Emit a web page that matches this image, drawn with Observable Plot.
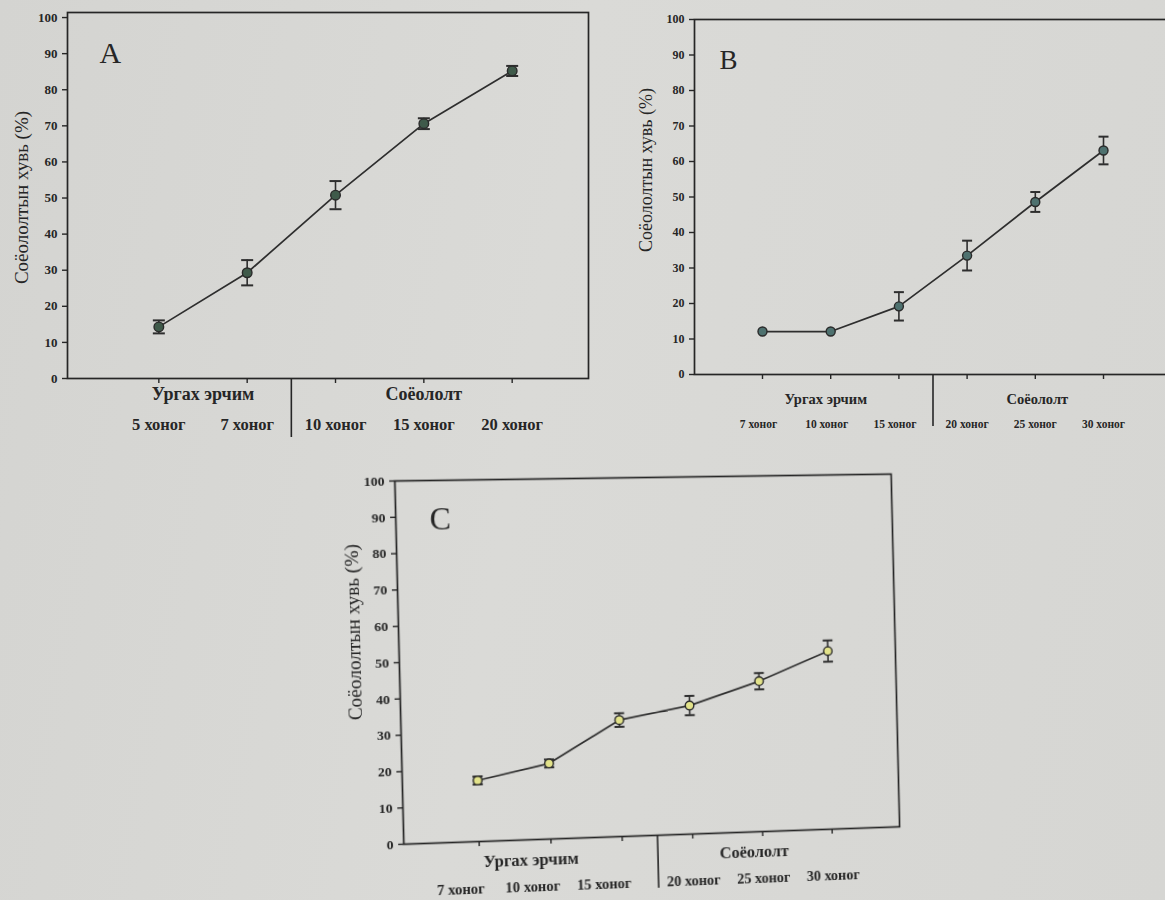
<!DOCTYPE html>
<html>
<head>
<meta charset="utf-8">
<script src="https://cdn.jsdelivr.net/npm/d3@7"></script>
<script src="https://cdn.jsdelivr.net/npm/@observablehq/plot@0.6"></script>
<style>
  html, body { margin: 0; padding: 0; }
  body { width: 1165px; height: 900px; overflow: hidden; position: relative;
         background: linear-gradient(100deg, #d4d4d1 0%, #dadad7 45%, #d6d6d3 100%); }
  .panel { position: absolute; }
  .panel svg { overflow: visible; max-width: none; }
</style>
</head>
<body>
<div id="A" class="panel" style="left:0px; top:0px; width:600px;"></div>
<div id="B" class="panel" style="left:620px; top:0px; width:560px;"></div>
<div id="C" class="panel" style="left:337px; top:457px; width:577px; transform: perspective(1000px) rotateY(3.4deg) rotate(-1.4deg); transform-origin: 313px 199px;"></div>
<script>
// ---------- data ----------
const yLabel = "Соёололтын хувь (%)";
const yTicks = [0, 10, 20, 30, 40, 50, 60, 70, 80, 90, 100];
const groupNames = ["Ургах эрчим", "Соёололт"];

const A_labels = ["5 хоног", "7 хоног", "10 хоног", "15 хоног", "20 хоног"];
const A_values = [14.3, 29.3, 50.8, 70.6, 85.2];
const A_errors = [1.8, 3.5, 3.9, 1.5, 1.4];
const A_groupSizes = [2, 3];

const B_labels = ["7 хоног", "10 хоног", "15 хоног", "20 хоног", "25 хоног", "30 хоног"];
const B_values = [12.1, 12.1, 19.2, 33.5, 48.6, 63.1];
const B_errors = [0, 0, 4.0, 4.2, 2.8, 3.9];
const B_groupSizes = [3, 3];

const C_labels = ["7 хоног", "10 хоног", "15 хоног", "20 хоног", "25 хоног", "30 хоног"];
const C_values = [16.9, 21.0, 32.5, 36.0, 42.3, 50.3];
const C_errors = [1.1, 1.1, 1.9, 2.7, 2.3, 3.0];
const C_groupSizes = [3, 3];

// ---------- drawing ----------
const ink = "#262626";
const capSymbol = {
  draw(context, size) {
    const r = Math.sqrt(size / Math.PI);
    context.moveTo(-r, 0);
    context.lineTo(r, 0);
  }
};

function panel(cfg) {
  const data = cfg.values.map((v, i) => ({i, v, e: cfg.errors[i], label: cfg.labels[i]}));
  const withErr = data.filter(d => d.e > 0);
  let start = 0;
  const groups = cfg.groupSizes.map((n, g) => {
    const o = {name: groupNames[g], c: start + (n - 1) / 2, end: start + n - 0.5, items: data.slice(start, start + n)};
    start += n;
    return o;
  });
  const boundaries = groups.slice(0, -1).map(g => g.end);
  const fontFamily = "'Liberation Serif', 'DejaVu Serif', serif";

  return Plot.plot({
    width: cfg.width, height: cfg.height,
    marginLeft: cfg.ml, marginRight: cfg.mr, marginTop: cfg.mt, marginBottom: cfg.mb,
    style: {background: "transparent", fontFamily, color: ink},
    x: {type: "linear", domain: cfg.xDomain, axis: null},
    y: {domain: [0, cfg.yMax], axis: null},
    marks: [
      Plot.frame({stroke: ink, strokeWidth: 1.7}),
      Plot.axisY({ticks: yTicks, tickSize: 5, tickPadding: cfg.yPad, fontSize: cfg.yFont, fontWeight: "bold",
                  strokeWidth: 1.4, label: null}),
      Plot.text([yLabel], {frameAnchor: "left", rotate: -90, dx: cfg.yLabelDx, dy: cfg.yLabelDy,
                  fontSize: cfg.yLabelFont, textAnchor: "middle", fill: ink}),
      Plot.axisX({ticks: d3.range(cfg.labels.length), tickFormat: () => "", tickSize: 5, strokeWidth: 1.4, label: null}),
      ...groups.map((g, k) => Plot.text(g.items, {x: "i", text: "label", frameAnchor: "bottom", lineAnchor: "top",
                  dy: 5 + cfg.xPad, dx: cfg.tickDx[k], fontSize: cfg.xFont, fontWeight: "bold", fill: ink})),
      Plot.axisX({ticks: boundaries, tickFormat: () => "", tickSize: cfg.divLen, strokeWidth: 1.6, label: null}),
      ...groups.map((g, k) => Plot.text([g], {x: "c", text: "name", frameAnchor: "bottom", lineAnchor: "top",
                  dy: cfg.gDy, dx: cfg.groupDx[k], fontSize: cfg.gFont, fontWeight: "bold", fill: ink})),
      Plot.text([cfg.letter], {frameAnchor: "top-left", textAnchor: "start", lineAnchor: "top",
                  dx: cfg.letterDx, dy: cfg.letterDy, fontSize: cfg.letterFont, fill: ink}),
      Plot.line(data, {x: "i", y: "v", stroke: "#2e2e2e", strokeWidth: 1.7}),
      Plot.ruleX(withErr, {x: "i", y1: d => d.v - d.e, y2: d => d.v + d.e, stroke: "#2e2e2e", strokeWidth: 1.6}),
      Plot.dot(withErr, {x: "i", y: d => d.v - d.e, symbol: capSymbol, r: cfg.capR, fill: "none",
                  stroke: "#2e2e2e", strokeWidth: 2}),
      Plot.dot(withErr, {x: "i", y: d => d.v + d.e, symbol: capSymbol, r: cfg.capR, fill: "none",
                  stroke: "#2e2e2e", strokeWidth: 2}),
      Plot.dot(data, {x: "i", y: "v", r: cfg.dotR, fill: cfg.fill, stroke: "#2a2a2a", strokeWidth: 1.4})
    ]
  });
}

document.getElementById("A").append(panel({
  labels: A_labels, values: A_values, errors: A_errors, groupSizes: A_groupSizes, letter: "A",
  width: 600, height: 440, ml: 67, mr: 12, mt: 12, mb: 62,
  xDomain: [-1.034, 4.864], yMax: 101.4,
  yPad: 5, yFont: 13, yLabelDx: -46, yLabelDy: 2, yLabelFont: 19,
  xPad: 35, xFont: 16.5, tickDx: [0, 0], divLen: 59, gDy: 9, gFont: 18, groupDx: [0, 0],
  letterDx: 32, letterDy: 29, letterFont: 30,
  capR: 6, dotR: 4.8, fill: "#3f5a4a"
}));

document.getElementById("B").append(panel({
  labels: B_labels, values: B_values, errors: B_errors, groupSizes: B_groupSizes, letter: "B",
  width: 560, height: 440, ml: 74, mr: 12, mt: 19, mb: 66,
  xDomain: [-0.997, 5.953], yMax: 100,
  yPad: 5, yFont: 12, yLabelDx: -48, yLabelDy: -27, yLabelFont: 18,
  xPad: 40, xFont: 11.5, tickDx: [-4, 0], divLen: 52, gDy: 19, gFont: 14.5, groupDx: [-5, 2],
  letterDx: 25, letterDy: 30, letterFont: 27,
  capR: 5, dotR: 4.5, fill: "#4e716f"
}));

document.getElementById("C").append(panel({
  labels: C_labels, values: C_values, errors: C_errors, groupSizes: C_groupSizes, letter: "C",
  width: 577, height: 440, ml: 65, mr: 15, mt: 20, mb: 62,
  xDomain: [-1.04, 5.98], yMax: 100,
  yPad: 5, yFont: 13.5, yLabelDx: -44, yLabelDy: -31, yLabelFont: 19,
  xPad: 36, xFont: 14.5, tickDx: [-19, 0], divLen: 53, gDy: 14, gFont: 16.5, groupDx: [-20, -9],
  letterDx: 33, letterDy: 26, letterFont: 31,
  capR: 5, dotR: 4.3, fill: "#e3e38a"
}));
</script>
</body>
</html>
